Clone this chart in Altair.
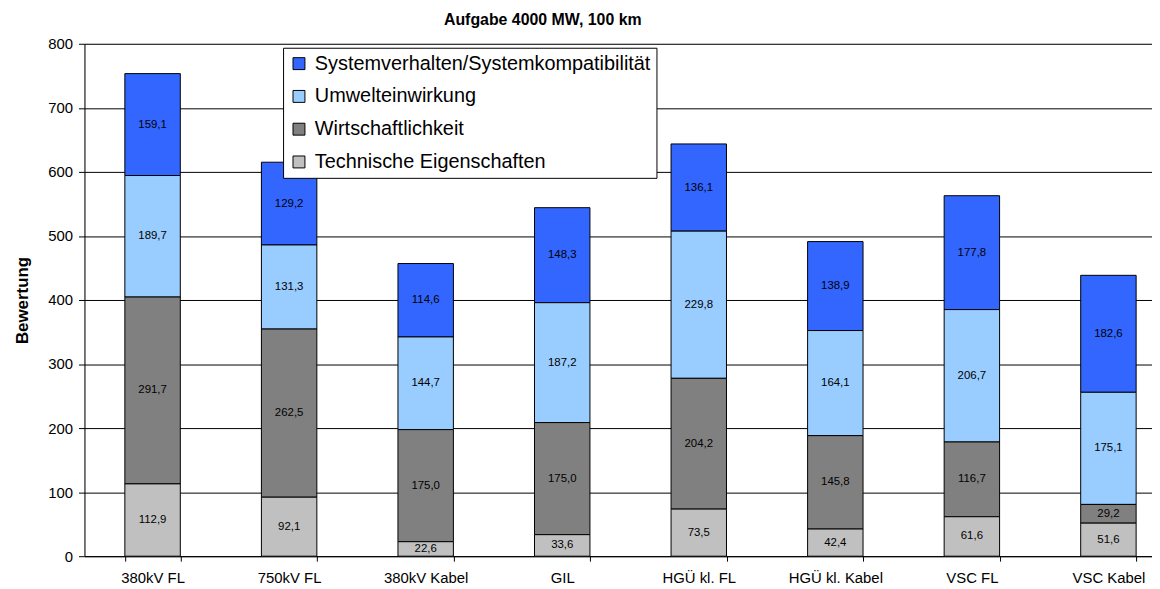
import altair as alt
import pandas as pd

categories = ["380kV FL", "750kV FL", "380kV Kabel", "GIL", "HGÜ kl. FL", "HGÜ kl. Kabel", "VSC FL", "VSC Kabel"]
technische = [112.9, 92.1, 22.6, 33.6, 73.5, 42.4, 61.6, 51.6]
wirtschaft = [291.7, 262.5, 175.0, 175.0, 204.2, 145.8, 116.7, 29.2]
umwelt = [189.7, 131.3, 144.7, 187.2, 229.8, 164.1, 206.7, 175.1]
system = [159.1, 129.2, 114.6, 148.3, 136.1, 138.9, 177.8, 182.6]

series_names = ["Systemverhalten/Systemkompatibilität", "Umwelteinwirkung", "Wirtschaftlichkeit", "Technische Eigenschaften"]
series_colors = ["#3366FF", "#99CCFF", "#808080", "#C0C0C0"]
stack_order = {"Technische Eigenschaften": 0, "Wirtschaftlichkeit": 1, "Umwelteinwirkung": 2, "Systemverhalten/Systemkompatibilität": 3}

rows = []
for name, vals in zip(series_names, [system, umwelt, wirtschaft, technische]):
    for c, v in zip(categories, vals):
        rows.append({"Kategorie": c, "Serie": name, "Wert": v, "ord": stack_order[name]})
df = pd.DataFrame(rows)

FONT = "Liberation Sans"

x_enc = alt.X("Kategorie:N", sort=categories, title=None,
              scale=alt.Scale(paddingInner=0.594, paddingOuter=0.206, align=0.718),
              axis=alt.Axis(labelAngle=0, tickBand="extent", labelFontSize=15,
                            labelFont=FONT, labelColor="black", domainColor="black", tickColor="black",
                            tickSize=5, labelPadding=9, grid=False))

base = alt.Chart(df).transform_stack(
    stack="Wert", groupby=["Kategorie"], as_=["y0", "y1"], sort=[alt.SortField("ord", order="ascending")]
).transform_calculate(
    ymid="(datum.y0 + datum.y1) / 2",
    lbl="replace(format(datum.Wert, '.1f'), '.', ',')"
)

bars = base.mark_bar(stroke="black", strokeWidth=1).encode(
    x=x_enc,
    y=alt.Y("y0:Q", title="Bewertung",
            scale=alt.Scale(domain=[0, 800], nice=False),
            axis=alt.Axis(values=[0, 100, 200, 300, 400, 500, 600, 700, 800], grid=True,
                          gridColor="black", gridWidth=1, labelFontSize=15, labelFont=FONT,
                          labelColor="black", domainColor="black", tickColor="black",
                          tickSize=6, labelPadding=6, titleFont=FONT, titleFontSize=17,
                          titleFontWeight="bold", titleColor="black", titlePadding=16)),
    y2="y1:Q",
    color=alt.Color("Serie:N", scale=alt.Scale(domain=series_names, range=series_colors),
                    legend=alt.Legend(title=None, orient="none", legendX=200, legendY=4,
                                      fillColor="white", strokeColor="black", padding=6,
                                      symbolType="square", symbolSize=144, symbolStrokeColor="black",
                                      symbolStrokeWidth=1, symbolOpacity=1, labelFontSize=20,
                                      labelFont=FONT, labelColor="black", rowPadding=13,
                                      labelOffset=6, labelLimit=600)),
)

labels = base.mark_text(fontSize=11.5, font=FONT, color="black").encode(
    x=alt.X("Kategorie:N", sort=categories),
    y=alt.Y("ymid:Q"),
    text="lbl:N",
)

chart = alt.layer(bars, labels).properties(
    width=1152, height=579,
    autosize=alt.AutoSizeParams(type="fit", contains="padding"),
    title=alt.TitleParams("Aufgabe 4000 MW, 100 km", fontSize=16, fontWeight="bold", font=FONT,
                          color="black", anchor="middle", dx=-76, offset=9),
    padding={"left": 5, "top": 2, "right": 0, "bottom": 0},
).configure_view(stroke=None).configure(background="white")

chart.save("out.html", embed_options={"renderer": "svg", "actions": False})
